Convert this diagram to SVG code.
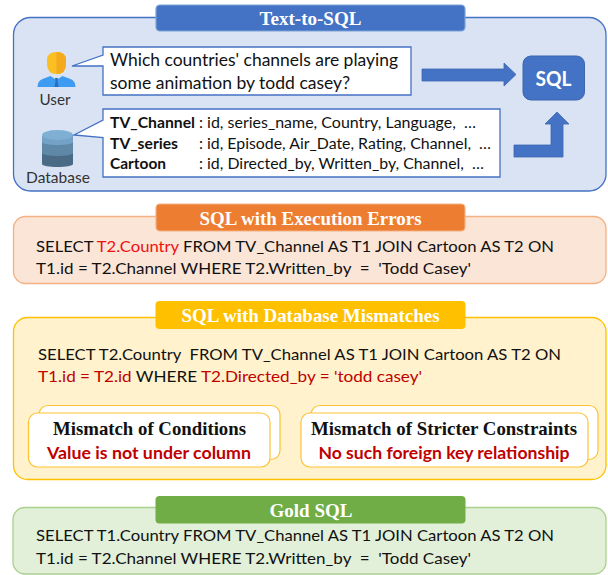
<svg xmlns="http://www.w3.org/2000/svg" width="608" height="575" viewBox="0 0 608 575">
<style>
text{font-family:Lato,"Open Sans","Liberation Sans",sans-serif;fill:#111;white-space:pre}
.t{font-family:"Liberation Serif",serif;font-weight:700;fill:#fff;font-size:19px;text-anchor:middle}
.h{font-family:"Liberation Serif",serif;font-weight:700;fill:#111;font-size:19px;text-anchor:middle}
.s{font-size:18px}
.m{font-size:16px}
.c{font-size:15.500px}
.b{font-weight:700}
.r{fill:#c00000}
.w{font-weight:700;fill:#c00000;font-size:17px;text-anchor:middle}
.l{font-size:16px;fill:#333;text-anchor:middle}
.box{fill:#fff;stroke:#4472c4;stroke-width:1.3}
.y{fill:#fff;stroke:#ffc233;stroke-width:1.2}
</style>
<g id="panel-text-to-sql">
<rect x="13.500" y="17.500" width="592.500" height="173.500" rx="17" fill="#dae3f3" stroke="#4472c4" stroke-width="1.3"/>
<rect x="156" y="5" width="309" height="26" rx="4" fill="#4472c4" stroke="#7ba3d6" stroke-width="1.2"/>
<text class="t" x="310.500" y="24.500" textLength="102" lengthAdjust="spacingAndGlyphs">Text-to-SQL</text>
</g>
<g id="node-user">
<path d="M47 60q0-8 9.500-8t9.500 8v4q0 10-9.500 10t-9.500-10z" fill="#fbbf24"/>
<path d="M56.500 52q9.500 0 9.500 8v4q0 10-9.500 10z" fill="#f5a91d"/>
<path d="M37.500 87q0-6 5-8l8-3 6 4 6-4 8 3q5 2 5 8z" fill="#3e9bf2"/>
<path d="M55 78h3l-.5 3 1 6h-4l1-6z" fill="#2a6fb8"/>
<text class="l" x="55" y="105" textLength="31" lengthAdjust="spacingAndGlyphs">User</text>
</g>
<g id="node-question">
<path class="box" d="M103 47H411V95H103V66L72 66L103 55Z"/>
<text class="s" x="110" y="66" textLength="288" lengthAdjust="spacingAndGlyphs">Which countries' channels are playing</text>
<text class="s" x="110" y="89" textLength="240" lengthAdjust="spacingAndGlyphs">some animation by todd casey?</text>
</g>
<g id="node-database">
<path d="M42 136v28c0 4 31 4 31 0v-28z" fill="#4a6a85"/>
<path d="M42 136v17c0 4 31 4 31 0v-17z" fill="#5f87a6"/>
<path d="M42 136v6c0 4 31 4 31 0v-6z" fill="#74a2c6"/>
<ellipse cx="57.500" cy="135" rx="15.500" ry="5" fill="#7fb0d4"/>
<text class="l" x="58" y="183" textLength="64" lengthAdjust="spacingAndGlyphs">Database</text>
</g>
<g id="node-schema">
<path class="box" d="M103 109H500V177H103V137.500L74 135L103 120Z"/>
<text class="c b" x="110" y="128" textLength="85" lengthAdjust="spacingAndGlyphs">TV_Channel</text>
<text class="c" x="199" y="128" textLength="277" lengthAdjust="spacingAndGlyphs">: id, series_name, Country, Language,  …</text>
<text class="c b" x="110" y="149" textLength="68" lengthAdjust="spacingAndGlyphs">TV_series</text>
<text class="c" x="199" y="149" textLength="292" lengthAdjust="spacingAndGlyphs">: id, Episode, Air_Date, Rating, Channel,  …</text>
<text class="c b" x="110" y="169" textLength="56" lengthAdjust="spacingAndGlyphs">Cartoon</text>
<text class="c" x="199" y="169" textLength="285" lengthAdjust="spacingAndGlyphs">: id, Directed_by, Written_by, Channel,  …</text>
</g>
<g id="node-sql">
<rect x="523" y="56" width="61.500" height="44" rx="8" fill="#4472c4" stroke="#3b66b0"/>
<text x="553.500" y="86" text-anchor="middle" font-size="20" font-weight="700" style="fill:#fff" textLength="36" lengthAdjust="spacingAndGlyphs">SQL</text>
</g>
<g id="connectors">
<path d="M422 69H504V63L516 74.500L504 86V81H422Z" fill="#4472c4" stroke="#3b66b0" stroke-width=".8"/>
<path d="M514 145H551V124H545L557 112L569 124H563V157H514Z" fill="#4472c4" stroke="#3b66b0" stroke-width=".8"/>
</g>
<g id="panel-execution-errors">
<rect x="13.500" y="216.500" width="592.500" height="67" rx="12" fill="#fbe5d6" stroke="#f4b183" stroke-width="1.3"/>
<rect x="156" y="204" width="309" height="27" rx="4" fill="#ed7d31" stroke="#f4b183" stroke-width="1.200"/>
<text class="t" x="310.500" y="224.500" textLength="222" lengthAdjust="spacingAndGlyphs">SQL with Execution Errors</text>
<text class="m" x="36" y="252" textLength="518" lengthAdjust="spacingAndGlyphs">SELECT <tspan style="fill:#f01010">T2.Country</tspan> FROM TV_Channel AS T1 JOIN Cartoon AS T2 ON</text>
<text class="m" x="36" y="274" textLength="435" lengthAdjust="spacingAndGlyphs">T1.id = T2.Channel WHERE T2.Written_by  =  'Todd Casey'</text>
</g>
<g id="panel-database-mismatches">
<rect x="13.500" y="317.500" width="592.500" height="162" rx="14" fill="#fff2cc" stroke="#ffc000" stroke-width="1.3"/>
<rect x="155.500" y="301" width="310" height="28" rx="4" fill="#ffc000"/>
<text class="t" x="310.500" y="322" textLength="258" lengthAdjust="spacingAndGlyphs">SQL with Database Mismatches</text>
<text class="m" x="38" y="360" textLength="523" lengthAdjust="spacingAndGlyphs">SELECT T2.Country  FROM TV_Channel AS T1 JOIN Cartoon AS T2 ON</text>
<text class="m" x="38" y="382" textLength="384" lengthAdjust="spacingAndGlyphs"><tspan class="r">T1.id = T2.id</tspan> WHERE <tspan class="r">T2.Directed_by = 'todd casey'</tspan></text>
</g>
<g id="node-mismatch-conditions">
<rect class="y" x="39" y="405.500" width="241" height="54" rx="9"/>
<rect class="y" x="28.500" y="413" width="241.500" height="54" rx="9"/>
<text class="h" x="149.500" y="435" textLength="193" lengthAdjust="spacingAndGlyphs">Mismatch of Conditions</text>
<text class="w" x="149" y="459" textLength="204" lengthAdjust="spacingAndGlyphs">Value is not under column</text>
</g>
<g id="node-mismatch-constraints">
<rect class="y" x="311" y="405.500" width="287" height="54" rx="9"/>
<rect class="y" x="301" y="413" width="287" height="54" rx="9"/>
<text class="h" x="444" y="435" textLength="266" lengthAdjust="spacingAndGlyphs">Mismatch of Stricter Constraints</text>
<text class="w" x="444" y="459" textLength="251" lengthAdjust="spacingAndGlyphs">No such foreign key relationship</text>
</g>
<g id="panel-gold">
<rect x="13" y="507.500" width="593" height="66.500" rx="12" fill="#e2f0d9" stroke="#a9d18e" stroke-width="1.3"/>
<rect x="155.500" y="496" width="310" height="27.500" rx="4" fill="#70ad47"/>
<text class="t" x="311" y="516.500" textLength="83" lengthAdjust="spacingAndGlyphs">Gold SQL</text>
<text class="m" x="36" y="541" textLength="518" lengthAdjust="spacingAndGlyphs">SELECT T1.Country FROM TV_Channel AS T1 JOIN Cartoon AS T2 ON</text>
<text class="m" x="36" y="564" textLength="435" lengthAdjust="spacingAndGlyphs">T1.id = T2.Channel WHERE T2.Written_by  =  'Todd Casey'</text>
</g>
</svg>
